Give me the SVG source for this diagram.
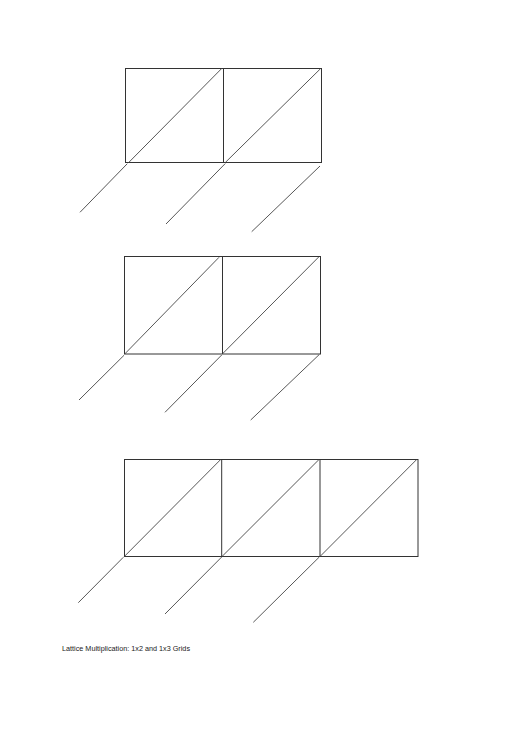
<svg xmlns="http://www.w3.org/2000/svg" width="530" height="749" viewBox="0 0 530 749">
<style>
.g{fill:none;stroke:#333;stroke-width:1}
.d{stroke:#444;stroke-width:0.9;fill:none}
text{font-family:"Liberation Sans",Arial,sans-serif;font-size:7px;fill:#222}
</style>
<rect width="530" height="749" fill="#fff"/>
<g id="grid1">
<rect class="g" x="125.5" y="68.5" width="196" height="94"/>
<line class="g" x1="223.5" y1="68.5" x2="223.5" y2="162.5"/>
</g>
<g id="grid2">
<rect class="g" x="124.5" y="256.5" width="196" height="97.5"/>
<line class="g" x1="222.5" y1="256.5" x2="222.5" y2="354"/>
</g>
<g id="grid3">
<rect class="g" x="124.5" y="459.5" width="293.5" height="97"/>
<line class="g" x1="221.7" y1="459.5" x2="221.7" y2="556.5"/>
<line class="g" x1="320" y1="459.5" x2="320" y2="556.5"/>
</g>
<g id="connectors">
<line class="d" x1="128.7" y1="162.5" x2="221.7" y2="68.5"/>
<line class="d" x1="225.3" y1="162.5" x2="320.7" y2="68.5"/>
<line class="d" x1="127.3" y1="163.7" x2="80" y2="212.3"/>
<line class="d" x1="225.3" y1="163.5" x2="166" y2="224"/>
<line class="d" x1="320" y1="166" x2="251.7" y2="231.7"/>
<line class="d" x1="124.7" y1="354" x2="219" y2="257.3"/>
<line class="d" x1="222.3" y1="354" x2="318.7" y2="257"/>
<line class="d" x1="124" y1="355.3" x2="79" y2="400"/>
<line class="d" x1="221.7" y1="355" x2="165" y2="412.3"/>
<line class="d" x1="319.3" y1="354.5" x2="250.7" y2="420"/>
<line class="d" x1="124.3" y1="556.5" x2="220.7" y2="459.5"/>
<line class="d" x1="222" y1="556.5" x2="319" y2="459.5"/>
<line class="d" x1="320" y1="556.5" x2="416.7" y2="459.5"/>
<line class="d" x1="123.3" y1="557.3" x2="78.3" y2="602.7"/>
<line class="d" x1="221.7" y1="557" x2="165" y2="614"/>
<line class="d" x1="319.3" y1="557" x2="253.3" y2="622.3"/>
</g>
<text x="62" y="650.5" textLength="128" lengthAdjust="spacingAndGlyphs">Lattice Multiplication:  1x2 and 1x3 Grids</text>
</svg>
